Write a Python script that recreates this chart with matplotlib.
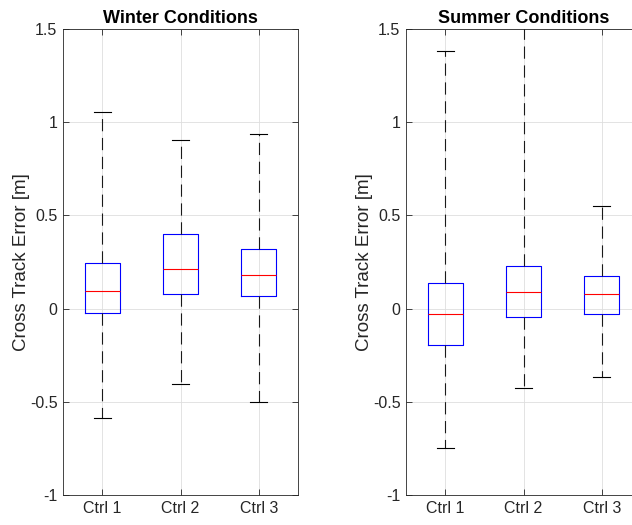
import matplotlib.pyplot as plt

plt.rcParams['font.family'] = ['Liberation Sans', 'DejaVu Sans']

labels = ['Ctrl 1', 'Ctrl 2', 'Ctrl 3']

# winter: lower whisker, q1, median, q3, upper whisker
winter_low = [-0.585, -0.402, -0.502]
winter_q1 = [-0.023, 0.078, 0.067]
winter_med = [0.093, 0.214, 0.182]
winter_q3 = [0.247, 0.402, 0.318]
winter_high = [1.053, 0.907, 0.937]

summer_low = [-0.750, -0.428, -0.367]
summer_q1 = [-0.197, -0.045, -0.029]
summer_med = [-0.029, 0.089, 0.077]
summer_q3 = [0.140, 0.231, 0.175]
summer_high = [1.383, 1.65, 0.551]


def make_stats(low, q1, med, q3, high):
    out = []
    for i in range(len(labels)):
        out.append(dict(label=labels[i], whislo=low[i], q1=q1[i], med=med[i],
                        q3=q3[i], whishi=high[i], fliers=[]))
    return out


def draw(ax, stats, title):
    ax.bxp(stats, positions=[1, 2, 3], widths=0.45, showfliers=False,
           boxprops=dict(color='blue', linewidth=0.8),
           medianprops=dict(color='red', linewidth=0.8),
           whiskerprops=dict(color='0.1', linewidth=0.8, linestyle=(0, (11, 6))),
           capprops=dict(color='black', linewidth=0.8),
           capwidths=0.22)
    ax.set_xlim(0.5, 3.5)
    ax.set_ylim(-1, 1.5)
    ax.set_yticks([-1, -0.5, 0, 0.5, 1, 1.5])
    ax.set_yticklabels(['-1', '-0.5', '0', '0.5', '1', '1.5'])
    ax.set_xticks([1, 2, 3])
    ax.set_xticklabels(labels)
    ax.grid(True, color='0.87', linewidth=0.6)
    ax.set_axisbelow(True)
    ax.tick_params(direction='in', top=True, right=True, length=4,
                   labelsize=11.5, colors='0.15', width=0.6, pad=4)
    for s in ax.spines.values():
        s.set_color('0.15')
        s.set_linewidth(0.6)
    ax.set_ylabel('Cross Track Error [m]', fontsize=13.5, color='0.15', labelpad=0)
    ax.set_title(title, fontsize=13, fontweight='bold', pad=4)


fig = plt.figure(figsize=(6.32, 5.25), dpi=100)
ax1 = fig.add_axes([63 / 632, 30 / 525, 235 / 632, 466 / 525])
ax2 = fig.add_axes([406 / 632, 30 / 525, 235 / 632, 466 / 525])

draw(ax1, make_stats(winter_low, winter_q1, winter_med, winter_q3, winter_high),
     'Winter Conditions')
draw(ax2, make_stats(summer_low, summer_q1, summer_med, summer_q3, summer_high),
     'Summer Conditions')

fig.savefig('out.png', dpi=100)
